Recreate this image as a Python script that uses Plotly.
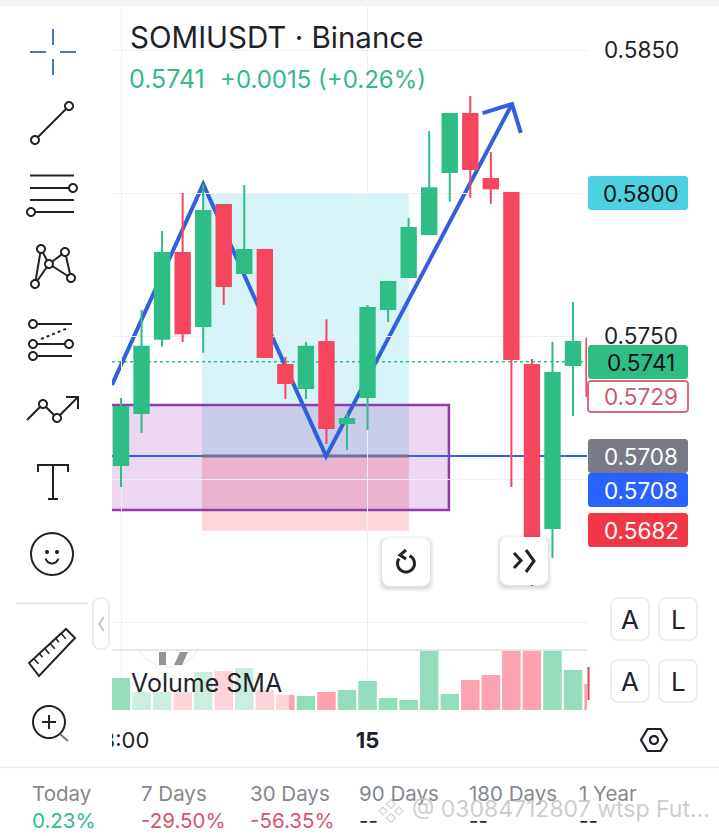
import numpy as np
import plotly.graph_objects as go

W, H = 719, 836
FONT = "Inter"
GREEN, RED = "#2ebd85", "#f6465d"

# ---------- data ----------
candle_x = list(range(24))
opens  = [.57049,.57231,.57490,.57790,.57535,.57958,.57720,.57801,.57399,.57318,.57479,.57196,.57287,.57594,.57706,.57857,.58073,.58276,.58049,.58000,.57399,.56829,.57399,.57490]
highs  = [.57283,.57591,.57867,.58000,.58031,.57958,.58028,.57801,.57427,.57479,.57559,.57231,.57608,.57689,.57913,.58217,.58276,.58339,.58143,.58000,.57420,.57479,.57619,.57490]
lows   = [.56972,.57161,.57462,.57479,.57441,.57608,.57720,.57427,.57280,.57280,.57122,.57101,.57171,.57549,.57706,.57857,.57969,.57983,.57962,.56972,.56626,.56724,.57220,.57290]
closes = [.57252,.57462,.57790,.57510,.57937,.57675,.57801,.57427,.57336,.57462,.57178,.57210,.57598,.57689,.57878,.58017,.58276,.58084,.58017,.57420,.56734,.57371,.57479,.57290]
volumes = [32,18,18,18,38,39,42,20,15,14,18,20,29,12,10,95,16,30,35,85,90,80,40,26]
zigzag_x = [-0.44,4.0,9.98,19.03]
zigzag_y = [.57329,.58031,.5708,.58311]
arrow_x = [17.6,19.03,19.46]
arrow_y = [.58279,.58311,.5821]
price_ticks = [.585,.58,.575,.57,.565]
price_tick_text = ["0.5850","0.5800","0.5750","",""]
time_ticks = [0,12]
time_tick_text = ["18:00","<b>15</b>"]
last_price = .5741
line_level = .5708
long_top, long_bottom, stop_bottom = .58,.5708,.5682
long_left, long_right = 3.94,14.01
box_top, box_bottom, box_left, box_right = .57259,.56892,-2,15.96
stat_labels = ["Today","7 Days","30 Days","90 Days","180 Days","1 Year"]
stat_values = ["0.23%","-29.50%","-56.35%","--","--","--"]

# ---------- helpers (page furniture is placed in window pixels) ----------
px = lambda x: x / W
py = lambda y: 1 - y / H
shapes, notes = [], []

def poly(pts, color="#1e2329", w=2, fill=None, close=False, layer="above"):
    d = "M" + " L".join(f"{px(x):.5f},{py(y):.5f}" for x, y in pts) + (" Z" if close else "")
    shapes.append(dict(type="path", xref="paper", yref="paper", path=d, layer=layer,
                       line=dict(color=color, width=w), fillcolor=fill or "rgba(0,0,0,0)"))

def arc(cx, cy, r, a0=0, a1=360, n=40):
    return [(cx + r*np.cos(np.radians(a)), cy + r*np.sin(np.radians(a))) for a in np.linspace(a0, a1, n)]

def circ(cx, cy, r, color="#1e2329", w=2, fill="white"):
    poly(arc(cx, cy, r), color, w, fill, True)

def rrect(x0, y0, x1, y1, r=4, fill="white", color=None, w=1):
    pts = arc(x1-r, y0+r, r, -90, 0, 6) + arc(x1-r, y1-r, r, 0, 90, 6) + arc(x0+r, y1-r, r, 90, 180, 6) + arc(x0+r, y0+r, r, 180, 270, 6)
    poly(pts, color or "rgba(0,0,0,0)", w if color else 0, fill, True)

def txt(x, y, s, size=20, color="#1e2329", anchor="left"):
    dx = -2 if anchor == "left" else 0
    notes.append(dict(xref="paper", yref="paper", x=px(x+dx), y=py(y), text=s, showarrow=False,
                      xanchor=anchor, yanchor="middle", font=dict(family=FONT, size=size, color=color)))

# ---------- figure ----------
fig = go.Figure()
fig.add_trace(go.Candlestick(x=candle_x, open=opens, high=highs, low=lows, close=closes,
    xaxis="x", yaxis="y", whiskerwidth=0, hoverinfo="skip",
    increasing=dict(line=dict(color=GREEN, width=2), fillcolor=GREEN),
    decreasing=dict(line=dict(color=RED, width=2), fillcolor=RED)))
fig.add_trace(go.Bar(x=candle_x, y=volumes, width=0.9, xaxis="x2", yaxis="y2", hoverinfo="skip",
    marker=dict(color=["#93dcbc" if c >= o else "#fda3b0" for o, c in zip(opens, closes)], line_width=0)))

data_shapes = []
def dshape(**k):
    k.setdefault("xref", "x"); k.setdefault("yref", "y"); k.setdefault("layer", "below")
    data_shapes.append(k)
dshape(type="rect", x0=long_left, x1=long_right, y0=long_bottom, y1=long_top,
       fillcolor="rgba(0,188,212,0.16)", line_width=0)
dshape(type="rect", x0=long_left, x1=long_right, y0=stop_bottom, y1=long_bottom,
       fillcolor="rgba(244,67,84,0.22)", line_width=0)
dshape(type="rect", x0=box_left, x1=box_right, y0=box_bottom, y1=box_top,
       fillcolor="rgba(156,39,176,0.19)", line=dict(color="#8e3ca8", width=2.5))
dshape(type="line", x0=-0.44, x1=22.68, y0=line_level, y1=line_level, line=dict(color="#2f62e6", width=2))
dshape(type="line", x0=long_left, x1=long_right, y0=line_level, y1=line_level, line=dict(color="#73709c", width=3))
dshape(type="line", x0=-0.44, x1=22.68, y0=last_price, y1=last_price, line=dict(color=GREEN, width=1.5, dash="dot"))
dshape(type="path", path="M" + " L".join(f"{a},{b}" for a, b in zip(zigzag_x, zigzag_y)),
       line=dict(color="#3060dc", width=4))
dshape(type="path", path="M" + " L".join(f"{a},{b}" for a, b in zip(arrow_x, arrow_y)),
       line=dict(color="#3060dc", width=4))

# page chrome
poly([(0,0),(W,0),(W,6),(0,6)], "rgba(0,0,0,0)", 0, "#f4f4f5", True)
poly([(0,710),(112,710),(112,766),(0,766)], "rgba(0,0,0,0)", 0, "white", True)     # clips the time label
poly([(112,650),(587,650)], "#e6e7e9", 2)
poly([(0,767.5),(W,767.5)], "#eeeeef", 1.5)

# logo behind the volume legend
poly(arc(168.5,633,34,28,152,30), "#e4e4e4", 1.5)
poly([(159,652),(166,652),(166,665),(159,665)], "rgba(0,0,0,0)", 0, "#222", True)
poly([(180,652),(188,652),(182,665),(174,665)], "rgba(0,0,0,0)", 0, "#222", True)
# veil under legend
poly([(130,651),(289,651),(289,710),(130,710)], "rgba(0,0,0,0)", 0, "rgba(255,255,255,0.52)", True)
poly([(588.5,667),(588.5,700)], "#e0405a", 2)

# toolbar: crosshair
for a in [((53,29),(53,45)),((53,59),(53,75)),((30,52),(46,52)),((60,52),(76,52))]:
    poly(a, "#4a76c4", 2)
# trend line
poly([(35,140),(69,106)]); circ(35,140,4); circ(69,106,4)
# fib
poly([(30,175.5),(74,175.5)]); poly([(30,188),(70,188)]); poly([(30,200),(74,200)]); poly([(34,212),(74,212)])
circ(73,188,4); circ(31,212,4)
# pattern
N = [(41,249),(65,252),(49,264),(71,278),(35,284)]
for i, j in [(4,0),(0,2),(4,2),(2,1),(1,3),(2,3)]:
    poly([N[i],N[j]])
for n in N: circ(*n,4)
# forecast
poly([(33,324),(72,324)]); poly([(33,344),(69,344)]); poly([(33,356),(72,356)])
shapes.append(dict(type="line", xref="paper", yref="paper", x0=px(41), y0=py(339), x1=px(68), y1=py(328),
                   line=dict(color="#1e2329", width=2, dash="dot"), layer="above"))
circ(33,324,4); circ(33,344,4); circ(69,344,4); circ(33,356,4)
# zigzag arrow
poly([(27,420),(43,404),(57,418),(78,397)]); poly([(66,397),(78,397),(78,409)])
circ(43,404,4); circ(57,418,4)
# T
poly([(38,472),(38,465),(68,465),(68,472)]); poly([(53,465),(53,499)]); poly([(48,499),(58,499)])
# smiley
circ(52,554,21)
circ(47,552,1,fill="#1e2329"); circ(57,552,1,fill="#1e2329")
poly(arc(52,557,6.5,15,165,12))
poly([(16,603.5),(88,603.5)], "#e4e4e4", 1.5)
# handle
rrect(93,598,109,649,7,"white","#e8e8e8",1.5)
poly([(104,617),(99,624),(104,631)], "#b8bcc2", 1.5)
# ruler
poly([(29,663),(39,676),(75,638),(66,629)], close=True)
for t in np.linspace(0.13,0.87,6):
    x, y = 29+37*t, 663-34*t
    l = 7 if round(t*100) % 2 else 5
    poly([(x,y),(x+l*0.65,y+l*0.75)], w=1.6)
# magnifier
circ(49,722,16)
poly([(42,722),(56,722)]); poly([(49,715),(49,729)])
poly([(60,734),(68,741)], "#777", 2)

# floating buttons
for x0, y0 in [(382,538),(500,537)]:
    for g, a in [(4,.03),(2.5,.04),(1.2,.05)]:
        rrect(x0-g,y0-g+2,x0+48+g,y0+48+g+2,8,f"rgba(0,0,0,{a})")
    rrect(x0,y0,x0+48,y0+48,8)
poly(arc(406,563.5,8.5,-65,215,24), "#1e2329", 3)
poly([(406,550),(400,555),(406,559)], "#1e2329", 3)
poly([(514,553),(521,560.5),(514,568)], "#1e2329", 3)
poly([(526,550),(534,561),(526,572)], "#1e2329", 3)

# price badges
def badge(y0, y1, s, fill, color, border=None):
    rrect(588, y0, 688, y1, 3, fill, border, 2)
    txt(641, (y0+y1)/2 + 0.5, s, 22.5, color, "center")
badge(176,210,"0.5800","#4dd0e1","#111")
badge(381,412,"0.5729","white","#cf5a6e","#d9697c")
badge(345,379,"0.5741",GREEN,"#111")
badge(439,473,"0.5708","#787b86","white")
badge(473,507,"0.5708","#2962ff","white")
badge(513,547,"0.5682","#f23645","white")

# A / L buttons
for y0, y1 in [(598,640),(660,702)]:
    for x0 in (611,659):
        rrect(x0,y0,x0+38,y1,7,"white","#e8e9eb",1.5)
    txt(630,(y0+y1)/2,"A",26,"#1e2329","center")
    txt(678,(y0+y1)/2,"L",26,"#1e2329","center")

# settings hexagon
poly([(641,740),(647.5,729),(660.5,729),(667,740),(660.5,751),(647.5,751)], "#1e2329", 2.2, None, True)
circ(654,740,4,"#1e2329",2.2)

# texts
txt(130,37,"SOMIUSDT · Binance",29.5,"#1e2329")
txt(129,79,"0.5741",25,"#35b88a")
txt(220,79,"+0.0015 (+0.26%)",24,"#35b88a")
txt(131,683,"Volume SMA",25,"#1e2329")
stat_x = [32,141,250,359,469,579]
for x, lab, val in zip(stat_x, stat_labels, stat_values):
    txt(x,793,lab,20.5,"#85888c")
    c = "#1e2329" if val == "--" else (GREEN if not val.startswith("-") else "#d9536a")
    txt(x,820,val,20.5,c)

# watermark
for cx, cy, r in [(391,804,4.5),(383,811,4),(399,811,4),(391,818,4.5)]:
    poly([(cx,cy-r),(cx+r,cy),(cx,cy+r),(cx-r,cy)], "#d4d4d4", 1.2, "rgba(255,255,255,0.85)", True)
txt(412,809,"@ 03084712807 wtsp Fut...",23,"rgba(196,196,200,0.85)")

fig.update_layout(
    template="none",
    width=W, height=H, autosize=False, margin=dict(l=0,r=0,t=0,b=0,pad=0),
    paper_bgcolor="white", plot_bgcolor="white", showlegend=False,
    boxgap=0.3, boxgroupgap=0, dragmode=False,
    shapes=data_shapes + shapes, annotations=notes,
    xaxis=dict(domain=[112/W,587/W], range=[-0.438,22.68], anchor="y", rangeslider=dict(visible=False),
               tickvals=time_ticks, showticklabels=False, showgrid=True, gridcolor="#eeeff1", gridwidth=1,
               zeroline=False, showline=False, ticks="", automargin=False),
    yaxis=dict(domain=[1-650/H,1], range=[.58-(650-193)/28600,.58+193/28600], anchor="x", side="right",
               tickvals=price_ticks, ticktext=price_tick_text, ticklabelstandoff=16, ticks="",
               tickfont=dict(family=FONT,size=22.5,color="#1e2329"), automargin=False,
               showgrid=True, gridcolor="#eeeff1", gridwidth=1, zeroline=False, showline=False),
    xaxis2=dict(domain=[112/W,587/W], range=[-0.438,22.68], anchor="y2",
                tickvals=time_ticks, ticktext=time_tick_text, ticklabelstandoff=15, ticks="",
                tickfont=dict(family=FONT,size=22,color="#1e2329"), automargin=False,
                showgrid=True, gridcolor="#eeeff1", gridwidth=1, zeroline=False, showline=False),
    yaxis2=dict(domain=[1-710/H,1-650/H], range=[0,60], anchor="x2", showticklabels=False, automargin=False,
                showgrid=False, zeroline=False, showline=False, ticks=""),
)
fig.write_html("out.html", config=dict(displayModeBar=False, staticPlot=True),
               post_script="document.body.style.margin='0';document.body.style.overflow='hidden';")
